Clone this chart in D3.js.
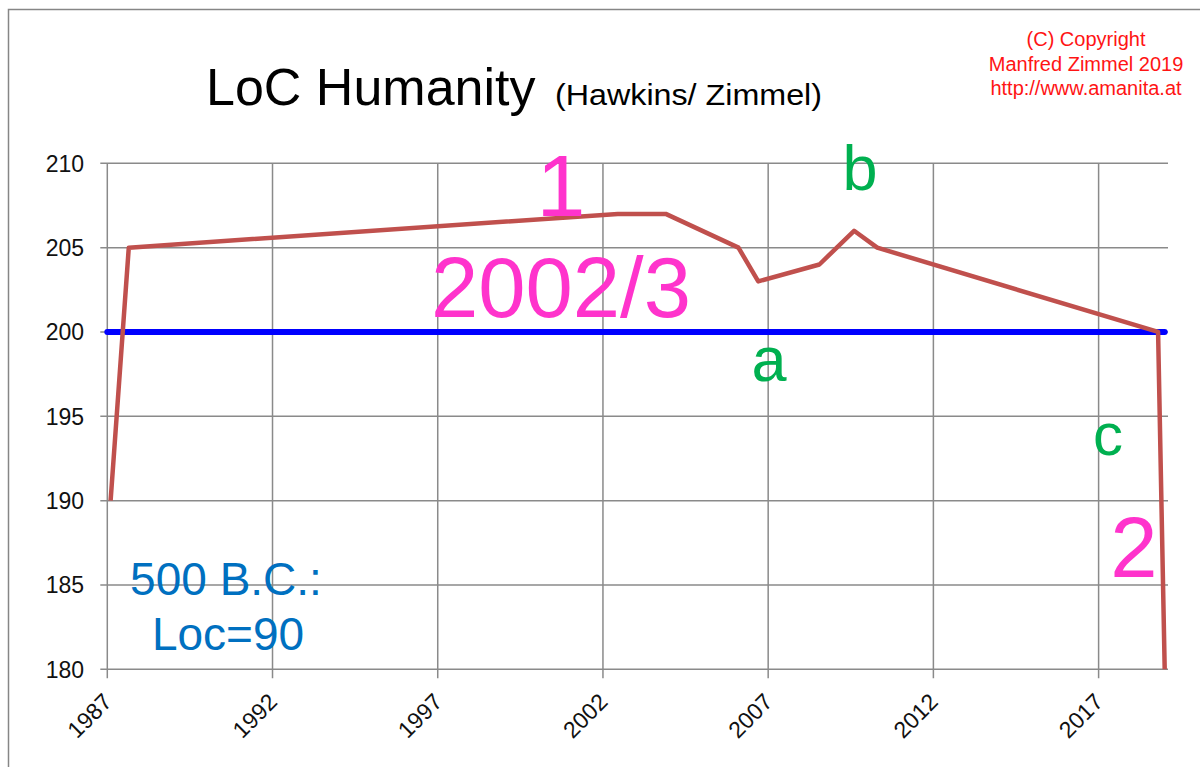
<!DOCTYPE html>
<html>
<head>
<meta charset="utf-8">
<script src="https://cdn.jsdelivr.net/npm/d3@7"></script>
<style>
  body { margin: 0; background: #fff; }
  svg text { font-family: "Liberation Sans", Arial, sans-serif; }
</style>
</head>
<body>
<div id="chart"></div>
<script>
// LoC curve (fractional year, value)
const locYears = [1987.1, 1987.65, 2002.45, 2003.9, 2006.1, 2006.7, 2008.55, 2009.6, 2010.3, 2018.8, 2019.0];
const locValues = [190, 205, 207, 207, 205, 203, 204, 206, 205, 200, 180];

// blue reference line at 200
const refYears = [1987, 2019.0];
const refValues = [200, 200];

const xTicks = [1987, 1992, 1997, 2002, 2007, 2012, 2017];
const yTicks = [180, 185, 190, 195, 200, 205, 210];

const copyrightLines = ["(C) Copyright", "Manfred Zimmel  2019", "http://www.amanita.at"];

function draw() {
  const width = 1200;
  const height = 767;
  const plot = { left: 107.3, right: 1168, top: 163.3, bottom: 669.3 };

  const svg = d3
    .select("#chart")
    .append("svg")
    .attr("width", width)
    .attr("height", height);

  // outer frame
  svg
    .append("rect")
    .attr("x", 8.5)
    .attr("y", 9.5)
    .attr("width", width + 20)
    .attr("height", height + 20)
    .attr("fill", "none")
    .attr("stroke", "#868686")
    .attr("stroke-width", 1.5);

  // Scales
  const xScale = d3.scaleLinear().domain([1987, 2019.1]).range([plot.left, plot.right]);
  const yScale = d3.scaleLinear().domain([180, 210]).range([plot.bottom, plot.top]);

  const gridColor = "#8a8a8a";

  // horizontal grid + y ticks
  svg
    .append("g")
    .selectAll("line")
    .data(yTicks)
    .join("line")
    .attr("x1", plot.left - 7)
    .attr("x2", plot.right)
    .attr("y1", (d) => yScale(d))
    .attr("y2", (d) => yScale(d))
    .attr("stroke", gridColor)
    .attr("stroke-width", 1.5);

  // vertical grid + x ticks
  svg
    .append("g")
    .selectAll("line")
    .data(xTicks)
    .join("line")
    .attr("x1", (d) => xScale(d))
    .attr("x2", (d) => xScale(d))
    .attr("y1", plot.top)
    .attr("y2", plot.bottom + 9)
    .attr("stroke", gridColor)
    .attr("stroke-width", 1.5);

  // y labels
  svg
    .append("g")
    .selectAll("text")
    .data(yTicks)
    .join("text")
    .attr("x", 84)
    .attr("y", (d) => yScale(d) + 8.5)
    .attr("text-anchor", "end")
    .style("font-size", "23px")
    .style("fill", "#111")
    .text((d) => d);

  // x labels (rotated)
  svg
    .append("g")
    .selectAll("text")
    .data(xTicks)
    .join("text")
    .attr("transform", (d) => `translate(${xScale(d) + 6}, ${plot.bottom + 34}) rotate(-45)`)
    .attr("text-anchor", "end")
    .style("font-size", "23px")
    .style("fill", "#111")
    .text((d) => d);

  const line = d3
    .line()
    .x((d) => xScale(d[0]))
    .y((d) => yScale(d[1]));

  // blue line at 200
  svg
    .append("path")
    .attr("d", line(d3.zip(refYears, refValues)))
    .attr("fill", "none")
    .attr("stroke", "#0000ff")
    .attr("stroke-width", 6)
    .attr("stroke-linecap", "round");

  // LoC line
  svg
    .append("path")
    .attr("d", line(d3.zip(locYears, locValues)))
    .attr("fill", "none")
    .attr("stroke", "#c0504d")
    .attr("stroke-width", 4.5)
    .attr("stroke-linejoin", "round");

  // Title
  svg
    .append("text")
    .attr("x", 206)
    .attr("y", 105)
    .style("font-size", "52px")
    .style("fill", "#000")
    .text("LoC Humanity");
  svg
    .append("text")
    .attr("x", 555)
    .attr("y", 105)
    .attr("textLength", 267)
    .attr("lengthAdjust", "spacingAndGlyphs")
    .style("font-size", "29px")
    .style("fill", "#000")
    .text("(Hawkins/  Zimmel)");

  // copyright
  svg
    .append("text")
    .attr("text-anchor", "middle")
    .style("font-size", "20px")
    .style("fill", "#ff1414")
    .selectAll("tspan")
    .data(copyrightLines)
    .join("tspan")
    .attr("x", 1086)
    .attr("y", (d, i) => 46 + i * 24.5)
    .text((d) => d);

  // annotations
  const magenta = "#ff33cc";
  const green = "#00b050";
  const notes = [
    { t: "1", x: 561, y: 216, size: 88, c: magenta, a: "middle" },
    { t: "2002/3", x: 431, y: 317, size: 85, c: magenta, a: "start" },
    { t: "2", x: 1134, y: 577, size: 85, c: magenta, a: "middle" },
    { t: "b", x: 860, y: 190, size: 63, c: green, a: "middle" },
    { t: "a", x: 769, y: 381, size: 63, c: green, a: "middle" },
    { t: "c", x: 1108, y: 455, size: 60, c: green, a: "middle" },
    { t: "500 B.C.:", x: 226, y: 595, size: 46, c: "#0070c0", a: "middle" },
    { t: "Loc=90", x: 228, y: 650, size: 46, c: "#0070c0", a: "middle" },
  ];

  svg
    .append("g")
    .selectAll("text")
    .data(notes)
    .join("text")
    .attr("x", (d) => d.x)
    .attr("y", (d) => d.y)
    .attr("text-anchor", (d) => d.a)
    .style("font-size", (d) => d.size + "px")
    .style("fill", (d) => d.c)
    .text((d) => d.t);
}

draw();
</script>
</body>
</html>
